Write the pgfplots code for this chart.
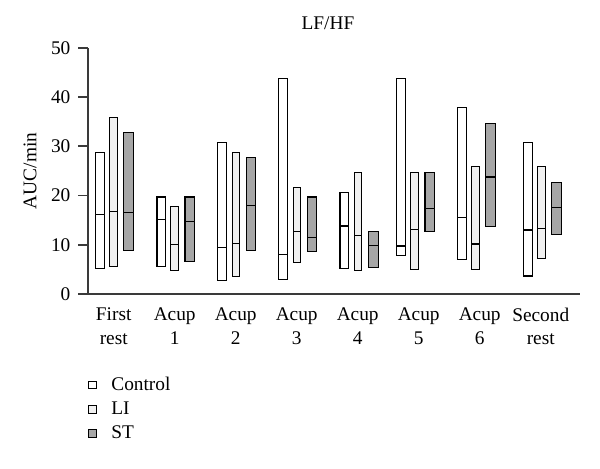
\documentclass[border=0pt]{standalone}
\usepackage{pgfplots}
\pgfplotsset{compat=1.18}
\usepgfplotslibrary{statistics}
\usepackage{fontspec}
\setmainfont{Liberation Serif}
\newcommand\myfont{\fontsize{14.5}{17.5}\selectfont}
\definecolor{ligray}{HTML}{F0F0F0}
\definecolor{stgray}{HTML}{A6A6A6}
\definecolor{axgray}{HTML}{3A3A3A}
% #1 position, #2 width, #3 fill, #4 min, #5 median, #6 max
\newcommand{\fbar}[6]{\addplot[forget plot, draw=black, fill=#3, line width=0.8pt,
  boxplot prepared={draw direction=y, draw position=#1, box extend=#2, whisker extend=0,
  lower whisker=#4, lower quartile=#4, median=#5, upper quartile=#6, upper whisker=#6}]
  coordinates {};}
\begin{document}
\begin{tikzpicture}
\useasboundingbox (0,0) rectangle (450pt,351pt);
\begin{axis}[
  at={(65.8pt,130.5pt)}, anchor=south west,
  scale only axis, width=369.2pt, height=184.7pt,
  xmin=-0.426, xmax=7.644, ymin=0, ymax=50,
  axis x line=bottom, axis y line=left,
  axis line style={-, line width=1.2pt, draw=axgray},
  tick align=outside, major tick length=7pt,
  ytick={0,10,20,30,40,50},
  y tick style={line width=1.2pt, draw=axgray},
  xtick={0,1,2,3,4,5,6,7},
  x tick style={draw=none},
  xticklabels={{First\\rest},{Acup\\1},{Acup\\2},{Acup\\3},{Acup\\4},{Acup\\5},{Acup\\6},{Second\\rest}},
  xticklabel style={align=center, font=\myfont},
  yticklabel style={font=\myfont, xshift=-2.5pt},
  /pgf/number format/assume math mode=true,
  ylabel={AUC/min},
  ylabel style={at={(axis description cs:-0.117,0.5)}, anchor=center, font=\myfont},
  title={LF/HF},
  title style={at={(axis description cs:0.5,1)}, anchor=base, yshift=8pt, xshift=-4.4pt, font=\myfont},
  legend cell align=left,
  legend style={at={(axis description cs:-0.0075,-0.315)}, anchor=north west, draw=none, fill=none, font=\myfont, row sep=3pt},
  legend image code/.code={\draw[#1] (0pt,-2.8pt) rectangle (5.6pt,2.8pt); \path[draw=none,fill=none] (0pt,0pt) -- (15pt,0pt);},
  clip=false,
]
\addlegendimage{draw=black, fill=white, line width=0.6pt}
\addlegendentry{Control}
\addlegendimage{draw=black, fill=ligray, line width=0.6pt}
\addlegendentry{LI}
\addlegendimage{draw=black, fill=stgray, line width=0.6pt}
\addlegendentry{ST}
% First rest
\fbar{-0.225}{0.14}{white}{5.2}{16.2}{28.7}
\fbar{0.0}{0.125}{ligray}{5.6}{16.8}{35.8}
\fbar{0.243}{0.155}{stgray}{8.8}{16.5}{32.7}
% Acup 1
\fbar{0.779}{0.14}{white}{5.6}{15.2}{19.7}
\fbar{1.0}{0.125}{ligray}{4.7}{10.0}{17.7}
\fbar{1.246}{0.155}{stgray}{6.6}{14.7}{19.7}
% Acup 2
\fbar{1.779}{0.14}{white}{2.7}{9.5}{30.7}
\fbar{2.003}{0.125}{ligray}{3.5}{10.2}{28.7}
\fbar{2.249}{0.155}{stgray}{8.9}{18.0}{27.7}
% Acup 3
\fbar{2.779}{0.14}{white}{3.0}{8.1}{43.8}
\fbar{3.005}{0.125}{ligray}{6.4}{12.7}{21.7}
\fbar{3.249}{0.155}{stgray}{8.7}{11.5}{19.7}
% Acup 4
\fbar{3.780}{0.14}{white}{5.1}{13.8}{20.7}
\fbar{4.005}{0.125}{ligray}{4.7}{11.8}{24.6}
\fbar{4.256}{0.155}{stgray}{5.35}{9.9}{12.65}
% Acup 5
\fbar{4.713}{0.14}{white}{7.85}{9.75}{43.8}
\fbar{4.931}{0.125}{ligray}{4.9}{13.1}{24.6}
\fbar{5.180}{0.155}{stgray}{12.7}{17.4}{24.6}
% Acup 6
\fbar{5.710}{0.14}{white}{7.0}{15.6}{37.8}
\fbar{5.934}{0.125}{ligray}{4.95}{10.15}{25.8}
\fbar{6.177}{0.155}{stgray}{13.7}{23.75}{34.7}
% Second rest
\fbar{6.792}{0.14}{white}{3.65}{13.0}{30.7}
\fbar{7.016}{0.125}{ligray}{7.3}{13.3}{25.8}
\fbar{7.259}{0.155}{stgray}{12.0}{17.5}{22.7}
\end{axis}
\end{tikzpicture}
\end{document}
